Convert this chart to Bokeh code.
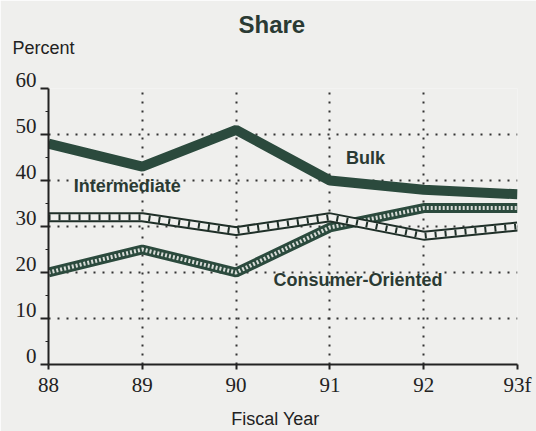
from bokeh.plotting import figure
from bokeh.models import Range1d, FixedTicker, Label, Title
from bokeh.embed import file_html
from bokeh.resources import INLINE

# Data
years = [88, 89, 90, 91, 92, 93]
year_labels = ["88", "89", "90", "91", "92", "93f"]
y_ticks = [0, 10, 20, 30, 40, 50, 60]
y_minor = [5, 15, 25, 35, 45, 55]
bulk = [48, 43, 51, 40, 38, 37]
intermediate = [32, 32, 29, 32, 28, 30]
consumer = [20, 25, 20, 29.8, 34, 34]

BG = "#efefed"
DARK = "#2b4a3d"

p = figure(width=536, height=431, output_backend="svg", toolbar_location=None,
           x_range=Range1d(88, 93), y_range=Range1d(0, 60),
           min_border_left=48, min_border_right=19, min_border_top=88, min_border_bottom=67)
p.background_fill_color = BG
p.border_fill_color = BG
p.outline_line_color = None

# Axes
p.xaxis.ticker = FixedTicker(ticks=years)
p.xaxis.major_label_overrides = {y: l for y, l in zip(years, year_labels)}
p.yaxis.ticker = FixedTicker(ticks=y_ticks, minor_ticks=y_minor)
p.yaxis.major_label_overrides = {t: f"{t}\n" for t in y_ticks}
p.yaxis.major_label_text_line_height = 0.7
for ax in (p.xaxis, p.yaxis):
    ax.axis_line_width = 2
    ax.axis_line_color = "#222222"
    ax.major_tick_line_color = "#222222"
    ax.major_tick_line_width = 2
    ax.major_tick_in = 0
    ax.minor_tick_line_color = None
    ax.major_label_text_font = "Liberation Serif"
    ax.major_label_text_font_size = "21px"
    ax.major_label_text_color = "#222222"
p.xaxis.major_tick_out = 5
p.yaxis.major_tick_out = 8
p.yaxis.minor_tick_line_color = "#222222"
p.yaxis.minor_tick_out = 3
p.yaxis.minor_tick_in = 0
p.xaxis.major_label_standoff = 3
p.yaxis.major_label_standoff = 4

# x axis label
p.xaxis.axis_label = "Fiscal Year\u00a0\u00a0\u00a0"
p.xaxis.axis_label_standoff = 9
p.xaxis.axis_label_text_font = "Liberation Sans"
p.xaxis.axis_label_text_font_style = "normal"
p.xaxis.axis_label_text_font_size = "18px"
p.xaxis.axis_label_text_color = "#222222"

# Grid
for g in (p.xgrid, p.ygrid):
    g.grid_line_color = "#333333"
    g.grid_line_width = 2
    g.grid_line_dash = "2 7"

# Bulk
p.line(years, bulk, line_width=10, line_color=DARK)

# Consumer-Oriented: dark band with light dotted texture
p.line(years, consumer, line_width=10, line_color=DARK)
p.line(years, consumer, line_width=4, line_color="#d8dcd8", line_dash="2 2")

# Intermediate: double outline with truss pattern
p.line(years, intermediate, line_width=10, line_color="#1f2f28")
p.line(years, intermediate, line_width=6, line_color=BG)
p.line(years, intermediate, line_width=6, line_color="#1f2f28", line_dash="2 8")

# Series labels
for txt, x, y in [("Bulk", 91.38, 45.0), ("Intermediate", 88.84, 38.8), ("Consumer-Oriented", 91.30, 18.3)]:
    p.add_layout(Label(x=x, y=y, text=txt, text_align="center", text_baseline="middle",
                       text_font="Liberation Sans", text_font_style="bold",
                       text_font_size="18px", text_color="#2a3a33"))

# Titles: "Percent" (inner), "Share" (outer)
p.add_layout(Title(text="Percent\n", align="left", offset=-36, standoff=0, vertical_align="top",
                   text_line_height=1.45,
                   text_font="Liberation Sans", text_font_style="normal", text_font_size="18px",
                   text_color="#222222"), "above")
p.add_layout(Title(text="Share", align="left", offset=190, standoff=0,
                   text_font="Liberation Sans", text_font_style="bold", text_font_size="24px",
                   text_color="#2a3a33"), "above")

open("out.html", "w").write(file_html(p, INLINE))
